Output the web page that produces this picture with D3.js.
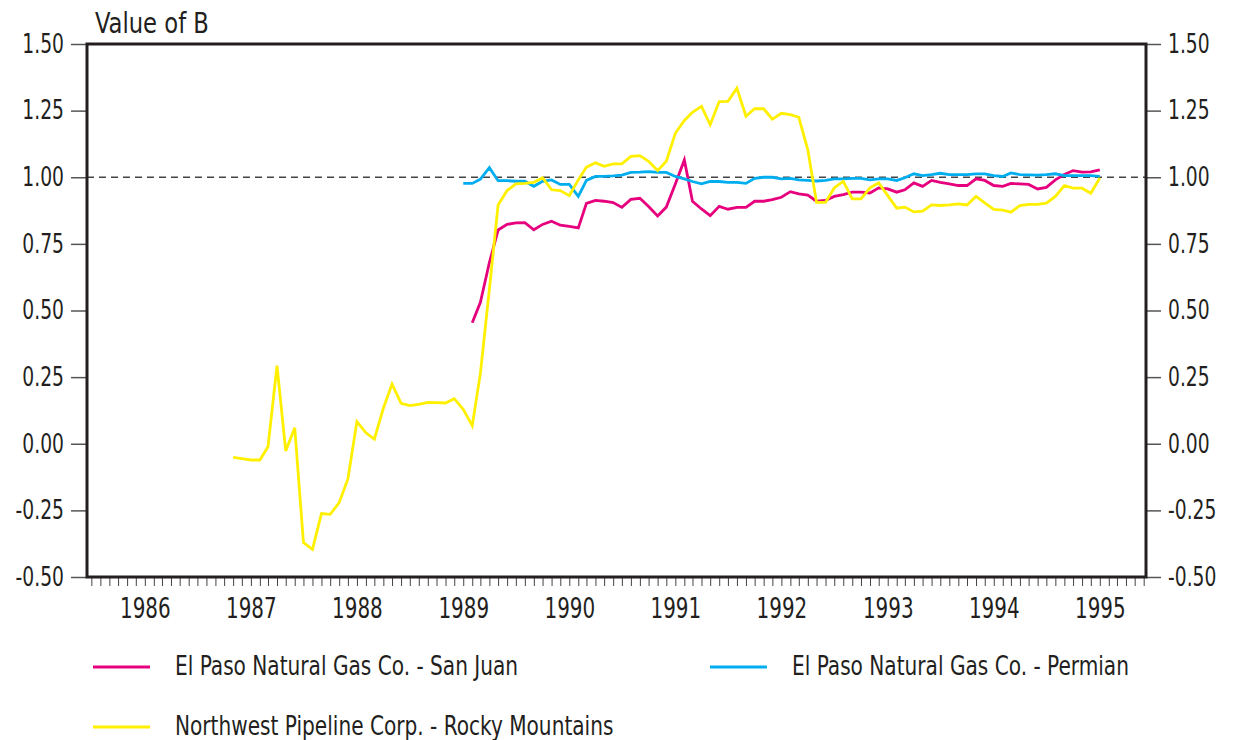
<!DOCTYPE html>
<html>
<head>
<meta charset="utf-8">
<script src="https://cdn.jsdelivr.net/npm/d3@7"></script>
<style>
  html, body { margin: 0; padding: 0; background: #fff; }
  svg { display: block; }
  text { font-family: "Liberation Sans Narrow", "DejaVu Sans Condensed", "Arial Narrow", sans-serif; fill: #231f20; }
</style>
</head>
<body>
<svg id="chart" width="1234" height="740"></svg>
<script>
// Monthly values of B, one array per pipeline, each starting at its first month.
const sanJuanStart = "1989-02";
const sanJuan = [
  0.454, 0.531, 0.680, 0.802, 0.823, 0.829, 0.830, 0.803, 0.823, 0.835, 0.820, 0.816,
  0.810, 0.902, 0.913, 0.910, 0.905, 0.887, 0.917, 0.921, 0.890, 0.855, 0.888, 0.975,
  1.065, 0.910, 0.881, 0.856, 0.891, 0.880, 0.887, 0.887, 0.910, 0.910, 0.916, 0.925,
  0.946, 0.938, 0.933, 0.910, 0.913, 0.928, 0.935, 0.944, 0.944, 0.941, 0.960, 0.956,
  0.944, 0.953, 0.979, 0.966, 0.988, 0.981, 0.975, 0.969, 0.969, 0.994, 0.988, 0.969,
  0.966, 0.977, 0.975, 0.973, 0.956, 0.962, 0.990, 1.010, 1.025, 1.019, 1.020, 1.028
];

const permianStart = "1989-01";
const permian = [
  0.977, 0.977, 0.993, 1.036, 0.987, 0.987, 0.985, 0.985, 0.966, 0.985, 0.990, 0.973,
  0.973, 0.928, 0.988, 1.003, 1.003, 1.005, 1.008, 1.018, 1.019, 1.021, 1.018, 1.018,
  1.003, 0.994, 0.984, 0.975, 0.984, 0.984, 0.981, 0.981, 0.977, 0.996, 1.000, 1.000,
  0.994, 0.996, 0.990, 0.988, 0.986, 0.988, 0.994, 0.994, 0.996, 0.996, 0.990, 0.994,
  0.994, 0.988, 0.998, 1.013, 1.006, 1.010, 1.015, 1.010, 1.010, 1.010, 1.013, 1.013,
  1.006, 1.003, 1.016, 1.010, 1.009, 1.008, 1.010, 1.013, 1.006, 1.006, 1.006, 1.006,
  1.003
];

const rockiesStart = "1986-11";
const rockies = [
  -0.051, -0.056, -0.061, -0.061, -0.011, 0.293, -0.027, 0.060, -0.371, -0.396, -0.262, -0.265,
  -0.221, -0.132, 0.083, 0.041, 0.017, 0.133, 0.224, 0.152, 0.143, 0.148, 0.155, 0.154,
  0.153, 0.169, 0.129, 0.068, 0.264, 0.580, 0.896, 0.950, 0.975, 0.977, 0.981, 0.998,
  0.953, 0.950, 0.931, 0.990, 1.038, 1.054, 1.041, 1.050, 1.050, 1.078, 1.081, 1.060,
  1.025, 1.060, 1.165, 1.213, 1.244, 1.266, 1.197, 1.284, 1.285, 1.334, 1.229, 1.257,
  1.257, 1.218, 1.240, 1.235, 1.225, 1.103, 0.906, 0.906, 0.960, 0.985, 0.919, 0.919,
  0.960, 0.979, 0.931, 0.884, 0.888, 0.870, 0.873, 0.896, 0.894, 0.896, 0.900, 0.896,
  0.928, 0.904, 0.879, 0.877, 0.869, 0.894, 0.898, 0.898, 0.903, 0.928, 0.969, 0.959,
  0.959, 0.940, 0.997
];

const seriesNames = [
  "El Paso Natural Gas Co. - San Juan",
  "El Paso Natural Gas Co. - Permian",
  "Northwest Pipeline Corp. - Rocky Mountains"
];
const seriesColors = ["#e6007e", "#00aeef", "#fff000"];

const yTicks = [-0.50, -0.25, 0.00, 0.25, 0.50, 0.75, 1.00, 1.25, 1.50];
const yearTicks = ["1986", "1987", "1988", "1989", "1990", "1991", "1992", "1993", "1994", "1995"];
const referenceLevel = 1.00;
const yTitle = "Value of B";

// ---- layout ----
const svg = d3.select("#chart");
const plot = { left: 87, right: 1146, top: 44, bottom: 577 };

const parseMonth = d3.timeParse("%Y-%m");
const x = d3.scaleTime()
  .domain([new Date(1985, 5, 16), new Date(1995, 5, 9)])
  .range([plot.left, plot.right]);
const y = d3.scaleLinear()
  .domain([-0.5, 1.5])
  .range([plot.bottom, plot.top]);

function toPoints(start, values) {
  const s = parseMonth(start);
  return values.map((v, i) => ({ date: d3.timeMonth.offset(s, i), value: v }));
}
const series = [
  toPoints(sanJuanStart, sanJuan),
  toPoints(permianStart, permian),
  toPoints(rockiesStart, rockies)
];

const fmt = d => (d < 0 ? "-" : "") + Math.abs(d).toFixed(2);

// narrow the available sans face to a condensed look
function condense(sel, k) {
  sel.each(function () {
    const w = this.getComputedTextLength();
    d3.select(this).attr("textLength", w * k).attr("lengthAdjust", "spacingAndGlyphs");
  });
}

// monthly minor ticks along the bottom
const xMinor = svg.append("g")
  .attr("transform", `translate(0,${plot.bottom})`)
  .call(d3.axisBottom(x).ticks(d3.timeMonth.every(1)).tickSize(9).tickFormat(""));
xMinor.select(".domain").remove();
xMinor.selectAll(".tick line").attr("stroke", "#444").attr("stroke-width", 1);

// year labels
const xYears = svg.append("g")
  .attr("transform", `translate(0,${plot.bottom})`)
  .call(d3.axisBottom(x)
    .tickValues(yearTicks.map(t => new Date(+t, 0, 1)))
    .tickSize(0).tickPadding(21)
    .tickFormat(d3.timeFormat("%Y")));
xYears.select(".domain").remove();
xYears.selectAll("text")
  .attr("font-size", 28).attr("fill", "#231f20")
  .attr("font-family", null)
  .call(condense, 0.79);

// left and right value axes
const yLeft = svg.append("g")
  .attr("transform", `translate(${plot.left},0)`)
  .call(d3.axisLeft(y).tickValues(yTicks).tickSize(16).tickPadding(7).tickFormat(fmt));
const yRight = svg.append("g")
  .attr("transform", `translate(${plot.right},0)`)
  .call(d3.axisRight(y).tickValues(yTicks).tickSize(15).tickPadding(7).tickFormat(fmt));
[yLeft, yRight].forEach(g => {
  g.select(".domain").remove();
  g.selectAll(".tick line").attr("stroke", "#555").attr("stroke-width", 1.5);
  g.selectAll("text").attr("font-size", 26).attr("fill", "#231f20").attr("font-family", null)
    .call(condense, 0.8);
});

// reference line at B = 1
svg.append("line")
  .attr("x1", plot.left).attr("x2", plot.right)
  .attr("y1", y(referenceLevel)).attr("y2", y(referenceLevel))
  .attr("stroke", "#444").attr("stroke-width", 1.4)
  .attr("stroke-dasharray", "7,5");

// series lines
const line = d3.line().x(d => x(d.date)).y(d => y(d.value));
svg.append("g").selectAll("path")
  .data(series)
  .join("path")
  .attr("d", line)
  .attr("fill", "none")
  .attr("stroke", (d, i) => seriesColors[i])
  .attr("stroke-width", 2.8)
  .attr("stroke-linejoin", "miter");

// plot frame
svg.append("rect")
  .attr("x", plot.left).attr("y", plot.top)
  .attr("width", plot.right - plot.left).attr("height", plot.bottom - plot.top)
  .attr("fill", "none").attr("stroke", "#231f20").attr("stroke-width", 3);

// axis title
svg.append("text")
  .attr("x", 95).attr("y", 33)
  .attr("font-size", 28)
  .text(yTitle)
  .call(condense, 0.9);

// legend
const legendPos = [[93, 667], [710, 667], [93, 727]];
const legend = svg.append("g").selectAll("g")
  .data(seriesNames)
  .join("g")
  .attr("transform", (d, i) => `translate(${legendPos[i][0]},${legendPos[i][1]})`);
legend.append("line")
  .attr("x1", 0).attr("x2", 57)
  .attr("stroke", (d, i) => seriesColors[i])
  .attr("stroke-width", 2.8);
legend.append("text")
  .attr("x", 82).attr("dy", "0.3em")
  .attr("font-size", 26)
  .text(d => d)
  .call(condense, 0.86);
</script>
</body>
</html>
